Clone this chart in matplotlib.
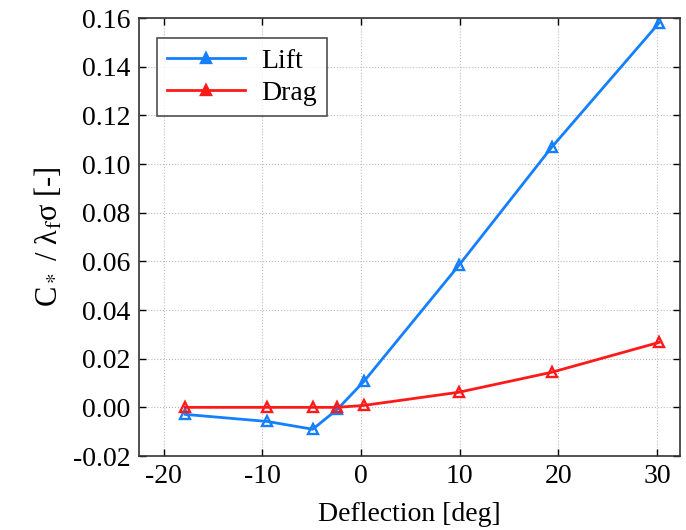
import matplotlib
matplotlib.use('Agg')
import matplotlib.pyplot as plt

plt.rcParams['font.family'] = ['Liberation Serif', 'DejaVu Serif']
plt.rcParams['mathtext.fontset'] = 'stix'
plt.rcParams['axes.unicode_minus'] = False

# Datos
deflection = [-17.8, -9.5, -4.9, -2.4, 0.3, 9.9, 19.3, 30.2]
lift = [-0.0029, -0.0058, -0.0090, -0.0008, 0.0107, 0.0583, 0.1068, 0.1580]
drag = [0.0000, 0.0000, 0.0000, 0.0000, 0.0008, 0.0062, 0.0144, 0.0267]

xticks = [-20, -10, 0, 10, 20, 30]
yticks = [-0.02, 0.00, 0.02, 0.04, 0.06, 0.08, 0.10, 0.12, 0.14, 0.16]

fig = plt.figure(figsize=(6.86, 5.30), dpi=100)
ax = fig.add_axes([0.2026, 0.1396, 0.7884, 0.8264])

ax.plot(deflection, lift, color='#1480ff', lw=2.0, marker='^', ms=6.5,
        mfc='none', mew=1.7, label='Lift')
ax.plot(deflection, drag, color='#ff1a1a', lw=2.0, marker='^', ms=6.5,
        mfc='none', mew=1.7, label='Drag')

ax.set_xlim(-22.5, 32.3)
ax.set_ylim(-0.02, 0.16)
ax.set_xticks(xticks)
ax.set_yticks(yticks)
ax.set_yticklabels(['%.2f' % v for v in yticks])
ax.tick_params(direction='in', top=True, right=True, labelsize=20, length=5, width=1, pad=6)
ax.grid(True, linestyle=':', color='#bbbbbb', lw=0.8)
for s in ax.spines.values():
    s.set_linewidth(1.2)
    s.set_color('#333333')

ax.set_xlabel('Deflection [deg]', fontsize=20, labelpad=9)
ax.set_ylabel('C$_*$ / λ$_{\\rm f}$σ [-]', fontsize=22, labelpad=6)

leg = ax.legend(loc='upper left', fontsize=20, frameon=True, fancybox=False,
                edgecolor='#222222', handlelength=2.8, borderpad=0.35,
                labelspacing=0.25, handletextpad=0.6, bbox_to_anchor=(0.008, 0.985))
leg.get_frame().set_linewidth(1.2)
for h in leg.legend_handles:
    h.set_markerfacecolor(h.get_color())

fig.savefig('out.png', dpi=100)
